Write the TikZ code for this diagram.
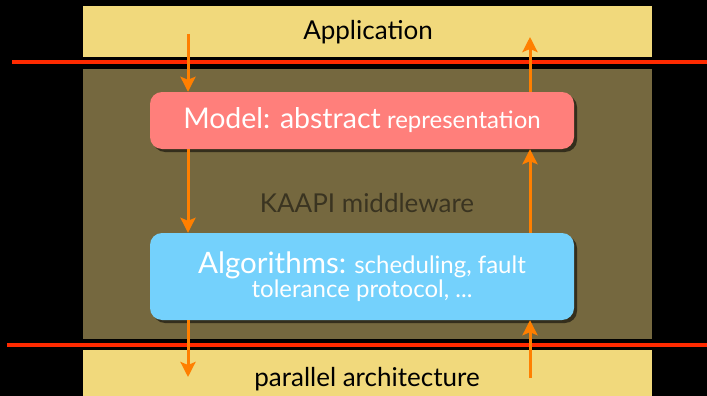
\documentclass[tikz,border=0pt]{standalone}
\usepackage{fontspec}
\setmainfont{Lato}
\usetikzlibrary{arrows.meta,shadows}

\definecolor{bandyellow}{HTML}{F1D97C}
\definecolor{midolive}{HTML}{75683F}
\definecolor{linered}{HTML}{FF2A00}
\definecolor{arroworange}{HTML}{FF7F00}
\definecolor{modelred}{HTML}{FF7F7B}
\definecolor{algoblue}{HTML}{74D1FC}
\definecolor{darktext}{HTML}{3A3421}

\tikzset{
    layerbox/.style={rectangle, rounded corners=12pt, minimum width=424pt, text=white, align=center,
        drop shadow={shadow xshift=3pt, shadow yshift=-3pt, opacity=0.55, fill=black}},
    flow/.style={draw=arroworange, line width=3pt, -{Stealth[length=15pt, width=15pt, inset=3pt]}},
    redline/.style={draw=linered, line width=4pt}
}

\begin{document}
\begin{tikzpicture}[x=1pt, y=-1pt]
        \fill[black] (0,0) rectangle (707,396);
        \useasboundingbox (0,0) rectangle (707,396);
        \fill[bandyellow] (83,6) rectangle (652,57);
        \fill[midolive] (83,69) rectangle (652,339);
        \fill[bandyellow] (83,350) rectangle (652,396);
        \draw[redline] (12,62) -- (707,62);
        \draw[redline] (7,345) -- (707,345);

        \node[anchor=base] (app) at (368,40) {\fontsize{26}{26}\selectfont Application};
        \node[anchor=base, text=darktext] (kaapi) at (367,212) {\fontsize{26}{26}\selectfont KAAPI middleware};
        \node[anchor=base] (arch) at (367,386) {\fontsize{26}{26}\selectfont parallel architecture};

        \node[layerbox, fill=modelred, minimum height=57pt] (model) at (362,120.5)
            {\fontsize{28.5}{30}\selectfont Model: abstract\fontsize{24}{30}\selectfont{} representation};
        \node[layerbox, fill=algoblue, minimum height=87pt] (algo) at (362,276.5)
            {\fontsize{29.5}{32}\selectfont Algorithms:\fontsize{24}{32}\selectfont{} scheduling, fault\\
             \fontsize{24}{32}\selectfont tolerance protocol, ...};

        \coordinate (appin) at (188,34);
        \coordinate (appout) at (530,37);
        \coordinate (archin) at (188,377);
        \coordinate (archout) at (530,378);

        \draw[flow] (appin) -- (appin |- model.north);
        \draw[flow] (model.south -| appin) -- (algo.north -| appin);
        \draw[flow] (algo.south -| archin) -- (archin);
        \draw[flow] (archout) -- (archout |- algo.south);
        \draw[flow] (algo.north -| appout) -- (model.south -| appout);
        \draw[flow] (model.north -| appout) -- (appout);
    \end{tikzpicture}
\end{document}
